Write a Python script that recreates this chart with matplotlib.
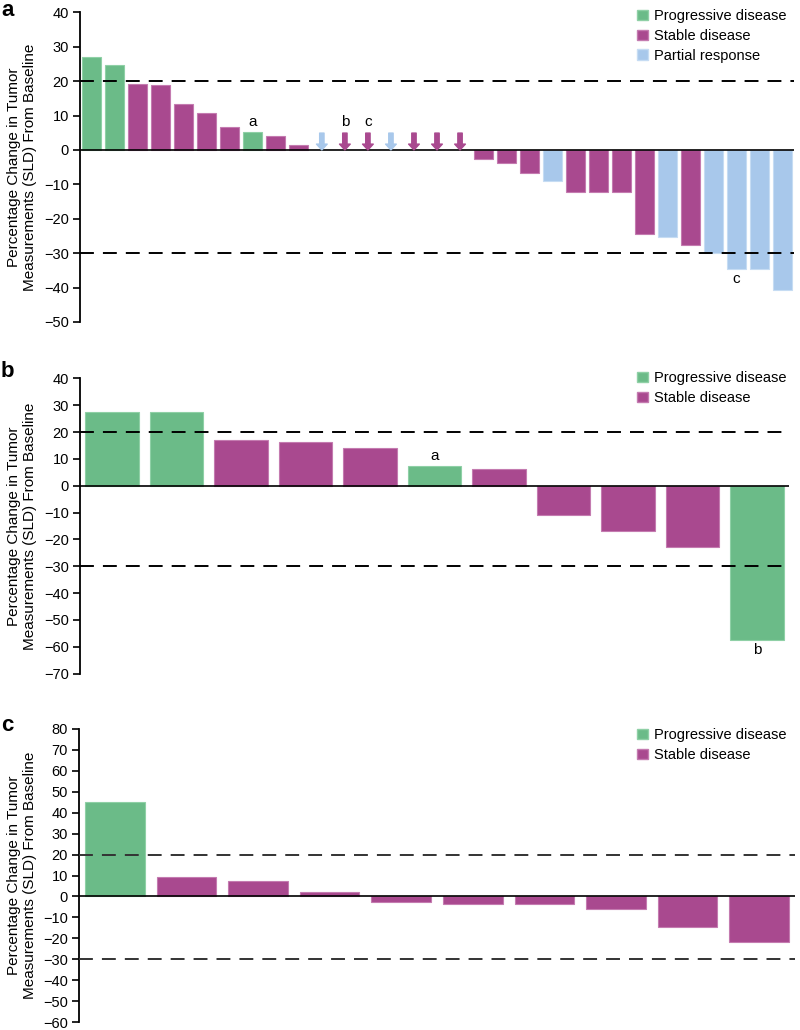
import matplotlib
matplotlib.use('Agg')
import matplotlib.pyplot as plt
from matplotlib.patches import Patch

plt.rcParams['font.family'] = ['Liberation Sans', 'DejaVu Sans']
plt.rcParams['lines.scale_dashes'] = False

colors = {'PD': '#6bbb88', 'SD': '#a9498f', 'PR': '#a8c8eb'}
edge_colors = {'PD': '#8fd0a6', 'SD': '#c47bb0', 'PR': '#c6dcf3'}
names = {'PD': 'Progressive disease', 'SD': 'Stable disease', 'PR': 'Partial response'}

# panel a -- None means ongoing (drawn as a down arrow)
a_values = [27.0, 24.8, 19.1, 18.9, 13.3, 10.6, 6.8, 5.3, 4.1, 1.4,
            None, None, None, None, None, None, None,
            -2.5, -3.9, -6.6, -9.1, -12.3, -12.3, -12.3, -24.4, -25.2,
            -27.7, -30.0, -34.7, -34.7, -40.7]
a_resp = ['PD', 'PD', 'SD', 'SD', 'SD', 'SD', 'SD', 'PD', 'SD', 'SD',
          'PR', 'SD', 'SD', 'PR', 'SD', 'SD', 'SD',
          'SD', 'SD', 'SD', 'PR', 'SD', 'SD', 'SD', 'SD', 'PR',
          'SD', 'PR', 'PR', 'PR', 'PR']
a_notes = {7: 'a', 11: 'b', 12: 'c', 28: 'c'}

# panel b
b_values = [27.6, 27.6, 17.1, 16.2, 14.0, 7.2, 6.1, -11.0, -16.8, -22.9, -57.5]
b_resp = ['PD', 'PD', 'SD', 'SD', 'SD', 'PD', 'SD', 'SD', 'SD', 'SD', 'PD']
b_notes = {5: 'a', 10: 'b'}

# panel c
c_values = [44.9, 9.4, 7.3, 2.0, -2.9, -3.7, -3.7, -5.9, -14.4, -22.0]
c_resp = ['PD', 'SD', 'SD', 'SD', 'SD', 'SD', 'SD', 'SD', 'SD', 'SD']
c_notes = {}

ARROW_H = 4.9
ylabel = 'Percentage Change in Tumor\nMeasurements (SLD) From Baseline'

fig = plt.figure(figsize=(8, 10.3), dpi=100)
H = 1030.0


def panel(rect, values, resp, notes, ylim, yticks, letter, legend_keys,
          legend_top_px, letter_px, dash_color='black'):
    ax = fig.add_axes(rect)
    n = len(values)
    for i, (v, r) in enumerate(zip(values, resp)):
        if v is None:
            ax.annotate('', xy=(i, 0), xytext=(i, ARROW_H),
                        arrowprops=dict(arrowstyle='simple,head_length=0.6,head_width=1.1,tail_width=0.45',
                                        color=colors[r], shrinkA=0, shrinkB=0,
                                        mutation_scale=7), zorder=4)
        else:
            ax.bar(i, v, width=0.83, color=colors[r], edgecolor=edge_colors[r],
                   linewidth=0.8, zorder=2)
    span = ylim[1] - ylim[0]
    for i, t in notes.items():
        v = values[i]
        if v is None:
            ax.text(i, ARROW_H + 0.012 * span, t, ha='center', va='bottom', fontsize=11)
        elif v >= 0:
            ax.text(i, v + 0.01 * span, t, ha='center', va='bottom', fontsize=11)
        else:
            ax.text(i, v - 0.01 * span, t, ha='center', va='top', fontsize=11)
    ax.axhline(0, color='black', lw=1.2, zorder=3)
    for y in (20, -30):
        ax.axhline(y, color=dash_color, lw=1.4, dashes=(10, 6.5), zorder=5)
    ax.set_xlim(-0.5, n - 0.5)
    ax.set_ylim(*ylim)
    ax.set_yticks(yticks)
    ax.set_yticklabels([str(t).replace('-', '\u2212') for t in yticks])
    ax.set_xticks([])
    for s in ('top', 'right', 'bottom'):
        ax.spines[s].set_visible(False)
    ax.spines['left'].set_linewidth(1.3)
    ax.tick_params(axis='y', direction='out', length=5, width=1.2, labelsize=10.5, pad=3)
    handles = [Patch(facecolor=colors[k], edgecolor=edge_colors[k], label=names[k]) for k in legend_keys]
    ax.legend(handles=handles, loc='upper left', bbox_to_anchor=(637 / 800, 1 - legend_top_px / H),
              bbox_transform=fig.transFigure, frameon=False, fontsize=10.5,
              handlelength=0.72, handleheight=0.72, handletextpad=0.45,
              labelspacing=0.4, borderpad=0, borderaxespad=0)
    cy = rect[1] + rect[3] / 2
    fig.text(22 / 800, cy, ylabel, rotation=90, ha='center', va='center',
             multialignment='center', fontsize=11, linespacing=1.15)
    fig.text(1 / 800, 1 - letter_px / H, letter, fontsize=16, fontweight='bold',
             ha='left', va='top')
    return ax


panel([80 / 800, 1 - 322 / H, 714 / 800, 309.7 / H], a_values, a_resp, a_notes,
      (-50, 40), range(-50, 41, 10), 'a', ['PD', 'SD', 'PR'], 9, 0)
panel([80 / 800, 1 - 673.7 / H, 709 / 800, 295.4 / H], b_values, b_resp, b_notes,
      (-70, 40), range(-70, 41, 10), 'b', ['PD', 'SD'], 371, 361)
panel([79 / 800, 1 - 1022 / H, 716 / 800, 293 / H], c_values, c_resp, c_notes,
      (-60, 80), range(-60, 81, 10), 'c', ['PD', 'SD'], 728, 715, dash_color='#333333')

fig.savefig('out.png', dpi=100)
